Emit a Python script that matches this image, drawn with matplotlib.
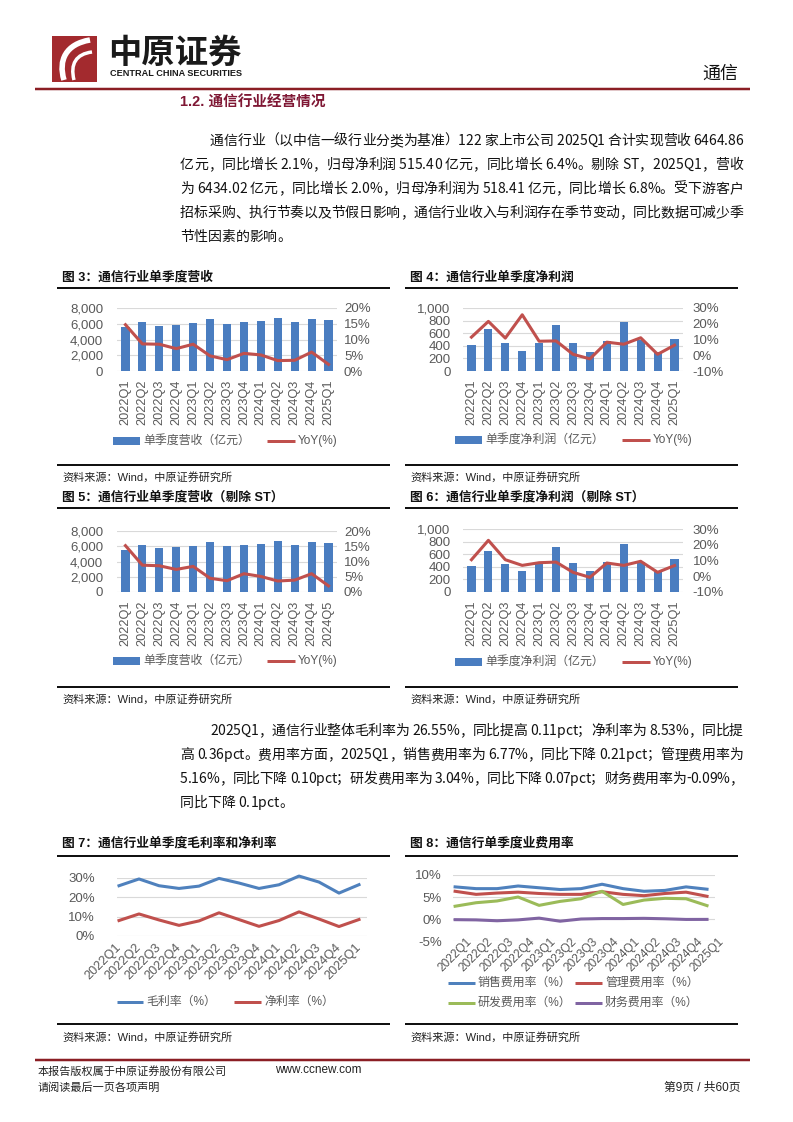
import matplotlib
matplotlib.use('Agg')
import matplotlib.pyplot as plt
from matplotlib.lines import Line2D
from matplotlib.patches import Rectangle, PathPatch
from matplotlib.path import Path
from matplotlib.ticker import FuncFormatter

# ---------------- data ----------------
quarters = ['2022Q1', '2022Q2', '2022Q3', '2022Q4', '2023Q1', '2023Q2', '2023Q3',
            '2023Q4', '2024Q1', '2024Q2', '2024Q3', '2024Q4', '2025Q1']
quarters_fig5 = ['2022Q1', '2022Q2', '2022Q3', '2022Q4', '2023Q1', '2023Q2', '2023Q3',
                 '2023Q4', '2024Q1', '2024Q2', '2024Q3', '2024Q4', '2024Q5']

revenue = [5540, 6210, 5750, 5870, 6040, 6550, 6000, 6170, 6380, 6760, 6170, 6550, 6465]
revenue_yoy = [14.7, 8.6, 8.5, 7.1, 8.5, 4.8, 3.6, 5.6, 5.1, 3.3, 3.4, 6.0, 2.1]
profit = [415, 670, 452, 314, 452, 729, 447, 303, 484, 777, 495, 298, 515]
profit_yoy = [11.5, 21.5, 10.9, 25.7, 8.9, 9.1, 0.6, -2.3, 8.3, 7.0, 11.1, 0.6, 6.4]
revenue_exst = [5520, 6190, 5730, 5850, 6020, 6530, 5980, 6150, 6360, 6740, 6150, 6530, 6434]
revenue_exst_yoy = [15.2, 8.8, 8.6, 7.4, 8.4, 4.5, 3.7, 6.0, 5.1, 3.6, 3.9, 6.0, 2.0]
profit_exst = [407, 656, 444, 328, 450, 720, 460, 328, 476, 767, 476, 317, 518]
profit_exst_yoy = [10.5, 22.8, 10.5, 6.9, 8.6, 9.0, 2.5, -0.7, 8.4, 6.9, 9.5, 2.5, 6.8]
gross_margin = [26.0, 29.5, 26.0, 24.6, 25.8, 29.8, 27.4, 24.6, 26.5, 31.0, 27.9, 22.2, 26.55]
net_margin = [8.0, 11.4, 8.3, 5.5, 7.8, 12.0, 8.5, 5.0, 8.0, 12.5, 8.8, 4.9, 8.53]
sales_rate = [7.3, 6.9, 6.9, 7.5, 7.1, 6.7, 6.9, 7.9, 6.9, 6.3, 6.5, 7.3, 6.77]
admin_rate = [6.3, 5.6, 5.9, 6.1, 5.8, 5.6, 5.6, 6.2, 5.6, 5.3, 5.8, 6.1, 5.16]
rd_rate = [2.9, 3.7, 4.1, 5.0, 3.1, 4.0, 4.6, 6.3, 3.3, 4.3, 4.7, 4.6, 3.04]
fin_rate = [-0.15, -0.2, -0.4, -0.2, 0.2, -0.5, 0.0, 0.1, 0.1, 0.15, 0.05, -0.1, -0.09]

para1 = ["通信行业（以中信一级行业分类为基准）122 家上市公司 2025Q1 合计实现营收 6464.86",
         "亿元，同比增长 2.1%，归母净利润 515.40 亿元，同比增长 6.4%。剔除 ST，2025Q1，营收",
         "为 6434.02 亿元，同比增长 2.0%，归母净利润为 518.41 亿元，同比增长 6.8%。受下游客户",
         "招标采购、执行节奏以及节假日影响，通信行业收入与利润存在季节变动，同比数据可减少季",
         "节性因素的影响。"]
para2 = ["2025Q1，通信行业整体毛利率为 26.55%，同比提高 0.11pct；净利率为 8.53%，同比提",
         "高 0.36pct。费用率方面，2025Q1，销售费用率为 6.77%，同比下降 0.21pct；管理费用率为",
         "5.16%，同比下降 0.10pct；研发费用率为 3.04%，同比下降 0.07pct；财务费用率为-0.09%，",
         "同比下降 0.1pct。"]

# ---------------- setup ----------------
CJK = ['Liberation Sans', 'Noto Sans CJK SC', 'DejaVu Sans']
BODY = ['Liberation Sans Narrow', 'Noto Sans CJK SC', 'DejaVu Sans']
plt.rcParams['font.family'] = CJK
W, H = 793, 1122
fig = plt.figure(figsize=(W / 100, H / 100), dpi=100)
fig.patch.set_facecolor('white')
renderer = fig.canvas.get_renderer()

GRAY = '#595959'
GRID = '#D9D9D9'
BAR = '#4A7DC0'
RED = '#C0504D'
BLUE = '#4F81BD'
GREEN = '#9BBB59'
PURPLE = '#8064A2'
MAROON = '#8B1E24'


def fx(x):
    return x / W


def fy(y):
    return 1 - y / H


def hline(x0, x1, y, lw_px, color):
    fig.add_artist(Line2D([fx(x0), fx(x1)], [fy(y), fy(y)], transform=fig.transFigure,
                          lw=lw_px * 0.72, color=color, solid_capstyle='butt'))


def text(x, y, s, **kw):
    kw.setdefault('va', 'center')
    return fig.text(fx(x), fy(y), s, **kw)


def add_axes(x0, y0, x1, y1):
    return fig.add_axes([fx(x0), fy(y1), (x1 - x0) / W, (y1 - y0) / H])


_wcache = {}


def cw(ch, size):
    key = (ch, size)
    if key not in _wcache:
        if ch == ' ':
            a = fig.text(0, 0, 'x x', fontsize=size, family=BODY)
            b = fig.text(0, 0, 'xx', fontsize=size, family=BODY)
            w = a.get_window_extent(renderer).width - b.get_window_extent(renderer).width
            a.remove(); b.remove()
        else:
            t = fig.text(0, 0, ch, fontsize=size, family=BODY)
            w = t.get_window_extent(renderer).width
            t.remove()
        _wcache[key] = w
    return _wcache[key]


def justify(line, x0, x1, y, size, just=True):
    widths = [cw(c, size) for c in line]
    total = sum(widths)
    extra = (x1 - x0 - total) / (len(line) - 1) if (just and len(line) > 1) else 0
    x = x0
    for c, w in zip(line, widths):
        if c != ' ':
            text(x, y, c, fontsize=size, family=BODY, ha='left', color='#111111')
        x += w + extra


# ---------------- header ----------------
fig.add_artist(Rectangle((fx(52), fy(82)), 45 / W, 46 / H, transform=fig.transFigure,
                         facecolor='#A32A2E', edgecolor='none'))
verts = [(fx(64), fy(80)), (fx(58), fy(60)), (fx(66), fy(44)), (fx(90), fy(40))]
fig.add_artist(PathPatch(Path(verts, [Path.MOVETO, Path.CURVE4, Path.CURVE4, Path.CURVE4]),
                         transform=fig.transFigure, facecolor='none', edgecolor='white', lw=4))
verts2 = [(fx(74), fy(80)), (fx(70), fy(64)), (fx(76), fy(54)), (fx(92), fy(52))]
fig.add_artist(PathPatch(Path(verts2, [Path.MOVETO, Path.CURVE4, Path.CURVE4, Path.CURVE4]),
                         transform=fig.transFigure, facecolor='none', edgecolor='white', lw=2.5))
text(108, 53, '中原证券', fontsize=24, family=['Noto Sans CJK SC'], fontweight='heavy', color='#1a1a1a')
text(110, 73, 'CENTRAL CHINA SECURITIES', fontsize=6.6, fontweight='bold', color='#1a1a1a')
text(738, 74, '通信', fontsize=13, ha='right', color='#111111')
hline(35, 750, 89, 2.5, MAROON)

text(180, 103, '1.2. 通信行业经营情况', fontsize=10.5, fontweight='bold', color='#7F1734')

# paragraph 1
ys1 = [141, 165, 189, 213, 237]
for i, (ln, yy) in enumerate(zip(para1, ys1)):
    justify(ln, 210 if i == 0 else 180, 743, yy, 10, just=(i < len(para1) - 1))

ys2 = [731, 755, 779, 803]
for i, (ln, yy) in enumerate(zip(para2, ys2)):
    justify(ln, 210 if i == 0 else 180, 743, yy, 10, just=(i < len(para2) - 1))


# ---------------- chart helpers ----------------
def panel(x0, x1, ytitle, yline, ybot, ysrc, title):
    text(x0 + 5, ytitle, title, fontsize=9.2, fontweight='bold', color='#111111')
    hline(x0, x1, yline, 2, '#111111')
    hline(x0, x1, ybot, 2, '#111111')
    text(x0 + 5, ysrc, '资料来源：Wind，中原证券研究所', fontsize=8, color='#222222')


def style_ax(ax):
    for s in ax.spines.values():
        s.set_visible(False)
    ax.tick_params(length=0, labelsize=9, labelcolor=GRAY)


def legend_patch(x0, x1, y, color, label):
    fig.add_artist(Rectangle((fx(x0), fy(y + 4)), (x1 - x0) / W, 8 / H, transform=fig.transFigure,
                             facecolor=color, edgecolor='none'))
    text(x1 + 3, y, label, fontsize=8.6, color=GRAY)


def legend_line(x0, x1, y, color, label):
    hline(x0, x1, y, 3, color)
    text(x1 + 3, y, label, fontsize=8.6, color=GRAY)


def bar_chart(box, cats, bars, yoy, lmax, lstep, rmin, rmax, rstep, lpad, rpad):
    ax = add_axes(*box)
    style_ax(ax)
    xs = list(range(len(cats)))
    ax.bar(xs, bars, width=0.48, color=BAR, zorder=2)
    ax.set_xlim(-0.5, len(cats) - 0.5)
    ax.set_ylim(0, lmax)
    ax.set_yticks(list(range(0, lmax + 1, lstep)))
    ax.yaxis.set_major_formatter(FuncFormatter(lambda v, p: f'{int(v):,}'))
    ax.grid(axis='y', color=GRID, lw=0.8, zorder=0)
    ax.set_axisbelow(True)
    ax.set_xticks(xs)
    ax.set_xticklabels(cats, rotation=90, fontsize=9.2, color=GRAY)
    ax.tick_params(axis='x', pad=6)
    ax.tick_params(axis='y', pad=lpad, labelsize=9.5)
    ax2 = ax.twinx()
    style_ax(ax2)
    ax2.plot(xs, yoy, color=RED, lw=2.2, zorder=3)
    ax2.set_ylim(rmin, rmax)
    ax2.set_yticks(list(range(rmin, rmax + 1, rstep)))
    ax2.yaxis.set_major_formatter(FuncFormatter(lambda v, p: f'{int(v)}%'))
    ax2.tick_params(axis='y', pad=rpad, labelsize=9.5)
    return ax


# chart 3
panel(57, 390, 277, 288, 465, 477, '图 3：通信行业单季度营收')
bar_chart((117, 308, 337, 371), quarters, revenue, revenue_yoy, 8000, 2000, 0, 20, 5, 10, 5)
legend_patch(113, 140, 441, BAR, '单季度营收（亿元）')
legend_line(267, 295, 441, RED, 'YoY(%)')

# chart 4
panel(405, 738, 277, 288, 465, 477, '图 4：通信行业单季度净利润')
bar_chart((463, 308, 683, 371), quarters, profit, profit_yoy, 1000, 200, -10, 30, 10, 9, 7)
legend_patch(455, 482, 440, BAR, '单季度净利润（亿元）')
legend_line(622, 650, 440, RED, 'YoY(%)')

# chart 5
panel(57, 390, 497, 508, 687, 699, '图 5：通信行业单季度营收（剔除 ST）')
bar_chart((117, 531, 337, 592), quarters_fig5, revenue_exst, revenue_exst_yoy, 8000, 2000, 0, 20, 5, 10, 5)
legend_patch(113, 140, 661, BAR, '单季度营收（亿元）')
legend_line(267, 295, 661, RED, 'YoY(%)')

# chart 6
panel(405, 738, 497, 508, 687, 699, '图 6：通信行业单季度净利润（剔除 ST）')
bar_chart((463, 529, 683, 592), quarters, profit_exst, profit_exst_yoy, 1000, 200, -10, 30, 10, 9, 7)
legend_patch(455, 482, 662, BAR, '单季度净利润（亿元）')
legend_line(622, 650, 662, RED, 'YoY(%)')


def line_chart(box, series, colors, ymin, ymax, ystep, xlim, lpad, lab_size, lab_pad, centered):
    ax = add_axes(*box)
    style_ax(ax)
    xs = list(range(len(quarters)))
    for s, c in zip(series, colors):
        ax.plot(xs, s, color=c, lw=2.2, clip_on=False, zorder=3)
    ax.set_xlim(*xlim)
    ax.set_ylim(ymin, ymax)
    ax.set_yticks(list(range(ymin, ymax + 1, ystep)))
    ax.yaxis.set_major_formatter(FuncFormatter(lambda v, p: f'{int(v)}%'))
    ax.grid(axis='y', color=GRID, lw=0.8, zorder=0)
    ax.set_axisbelow(True)
    ax.set_xticks(xs)
    if centered:
        ax.set_xticklabels(quarters, rotation=45, ha='center', va='top',
                           fontsize=lab_size, color=GRAY)
    else:
        ax.set_xticklabels(quarters, rotation=45, ha='right', va='center', rotation_mode='anchor',
                           fontsize=lab_size, color=GRAY)
    ax.tick_params(axis='x', pad=lab_pad)
    ax.tick_params(axis='y', pad=lpad, labelsize=9.5)
    return ax


# chart 7
panel(57, 390, 843, 856, 1024, 1037, '图 7：通信行业单季度毛利率和净利率')
line_chart((117, 878, 367, 936), [gross_margin, net_margin], [BLUE, RED], 0, 30, 10,
           (-0.1, 12.4), 16, 9.2, 7, False)
legend_line(117, 143, 1002, BLUE, '毛利率（%）')
legend_line(234, 261, 1002, RED, '净利率（%）')

# chart 8
panel(405, 738, 843, 856, 1024, 1037, '图 8：通信行单季度业费用率')
line_chart((453, 875, 715, 941), [sales_rate, admin_rate, rd_rate, fin_rate],
           [BLUE, RED, GREEN, PURPLE], -5, 10, 5, (-0.1, 12.38), 8, 8.6, -4, True)
legend_line(448, 475, 983, BLUE, '销售费用率（%）')
legend_line(575, 602, 983, RED, '管理费用率（%）')
legend_line(448, 475, 1003, GREEN, '研发费用率（%）')
legend_line(575, 602, 1003, PURPLE, '财务费用率（%）')

# ---------------- footer ----------------
hline(35, 750, 1060, 2.5, MAROON)
text(38, 1071, '本报告版权属于中原证券股份有限公司', fontsize=8, color='#222222')
text(275, 1070, 'www.ccnew.com', fontsize=8.5, color='#222222')
text(38, 1088, '请阅读最后一页各项声明', fontsize=8, color='#222222')
text(740, 1088, '第9页 / 共60页', fontsize=8.5, ha='right', color='#222222')

fig.savefig('out.png', dpi=100, facecolor='white')
